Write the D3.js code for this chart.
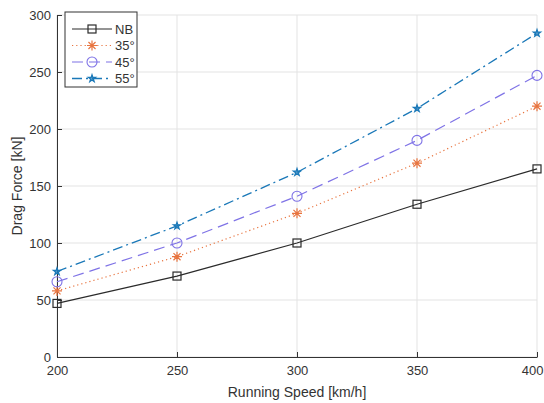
<!DOCTYPE html>
<html>
<head>
<meta charset="utf-8">
<script src="https://cdn.jsdelivr.net/npm/d3@7"></script>
<style>
  body { margin: 0; background: #fff; }
  text { font-family: "Liberation Sans", Arial, sans-serif; }
</style>
</head>
<body>
<div id="chart"></div>
<script>
const speeds = [200, 250, 300, 350, 400]
const nbValues = [47, 71, 100, 134, 165]
const a35Values = [58, 88, 126, 170, 220]
const a45Values = [66, 100, 141, 190, 247]
const a55Values = [75, 115, 162, 218, 284]
const seriesNames = ["NB", "35°", "45°", "55°"]
const xTicks = [200, 250, 300, 350, 400]
const yTicks = [0, 50, 100, 150, 200, 250, 300]

const width = 544, height = 403
const margin = { top: 15, right: 7, bottom: 46, left: 57 }

const styles = [
    { color: "#2b2b2b", dash: null, marker: "square", width: 1.2 },
    { color: "#e8743f", dash: "1.2,3", marker: "asterisk", width: 1.2 },
    { color: "#7f73e6", dash: "11,6", marker: "circle", width: 1.2 },
    { color: "#1a78b8", dash: "10,4,2,4", marker: "star", width: 1.3 }
]

const allValues = [nbValues, a35Values, a45Values, a55Values]

const svg = d3.select("#chart").append("svg")
    .attr("width", width)
    .attr("height", height)

const xScale = d3.scaleLinear([200, 400], [margin.left, width - margin.right])
const yScale = d3.scaleLinear([0, 300], [height - margin.bottom, margin.top])

// grid
svg.append("g").selectAll("line.gx").data(xTicks).join("line")
    .attr("x1", d => xScale(d)).attr("x2", d => xScale(d))
    .attr("y1", yScale(0)).attr("y2", yScale(300))
    .attr("stroke", "#e3e3e3").attr("stroke-width", 1)
svg.append("g").selectAll("line.gy").data(yTicks).join("line")
    .attr("x1", xScale(200)).attr("x2", xScale(400))
    .attr("y1", d => yScale(d)).attr("y2", d => yScale(d))
    .attr("stroke", "#e3e3e3").attr("stroke-width", 1)

// axes
const xAxis = d3.axisBottom(xScale).tickValues(xTicks).tickSizeInner(-5).tickSizeOuter(0).tickPadding(9)
const yAxis = d3.axisLeft(yScale).tickValues(yTicks).tickSizeInner(-5).tickSizeOuter(0).tickPadding(9)

const gx = svg.append("g").attr("transform", `translate(0,${yScale(0)})`).call(xAxis)
const gy = svg.append("g").attr("transform", `translate(${xScale(200)},0)`).call(yAxis)
for (const g of [gx, gy]) {
    g.select(".domain").attr("stroke", "#333")
    g.selectAll(".tick line").attr("stroke", "#333")
    g.selectAll(".tick text").attr("fill", "#333").style("font-size", "13px")
        .style("font-family", "'Liberation Sans', Arial, sans-serif")
}
gy.selectAll(".tick text").attr("dx", "3")
gx.selectAll(".tick text").filter(d => d === 400).attr("text-anchor", "end").attr("dx", "6")

svg.append("text")
    .attr("x", (xScale(200) + xScale(400)) / 2).attr("y", 397)
    .attr("text-anchor", "middle").attr("fill", "#333").style("font-size", "14px")
    .text("Running Speed [km/h]")
svg.append("text")
    .attr("transform", `translate(22,${(yScale(0) + yScale(300)) / 2}) rotate(-90)`)
    .attr("text-anchor", "middle").attr("fill", "#333").style("font-size", "14px")
    .text("Drag Force [kN]")

function drawMarker(g, type, color, x, y) {
    if (type === "square") {
        g.append("rect").attr("x", x - 4).attr("y", y - 4).attr("width", 8).attr("height", 8)
            .attr("fill", "none").attr("stroke", color).attr("stroke-width", 1.2)
    } else if (type === "circle") {
        g.append("circle").attr("cx", x).attr("cy", y).attr("r", 5)
            .attr("fill", "none").attr("stroke", color).attr("stroke-width", 1.1)
    } else if (type === "asterisk") {
        const r = 5, k = r * 0.7071
        const p = `M${x - r},${y}L${x + r},${y}M${x},${y - r}L${x},${y + r}` +
            `M${x - k},${y - k}L${x + k},${y + k}M${x - k},${y + k}L${x + k},${y - k}`
        g.append("path").attr("d", p).attr("stroke", color).attr("stroke-width", 1.2).attr("fill", "none")
    } else if (type === "star") {
        g.append("path").attr("d", d3.symbol(d3.symbolStar, 16)())
            .attr("transform", `translate(${x},${y})`)
            .attr("fill", color).attr("fill-opacity", 0.7)
            .attr("stroke", color).attr("stroke-width", 1.2)
    }
}

const line = d3.line().x((d, i) => xScale(speeds[i])).y(d => yScale(d))

allValues.forEach((vals, k) => {
    const st = styles[k]
    const g = svg.append("g")
    g.append("path").datum(vals).attr("d", line)
        .attr("fill", "none").attr("stroke", st.color).attr("stroke-width", st.width)
        .attr("stroke-dasharray", st.dash)
    vals.forEach((v, i) => drawMarker(g, st.marker, st.color, xScale(speeds[i]), yScale(v)))
})

// legend
const leg = svg.append("g")
leg.append("rect").attr("x", 65).attr("y", 12).attr("width", 72).attr("height", 75)
    .attr("fill", "#fff").attr("stroke", "#333").attr("stroke-width", 1)
seriesNames.forEach((name, k) => {
    const st = styles[k]
    const y = 29 + k * 16.5
    leg.append("line").attr("x1", 72).attr("x2", 112).attr("y1", y).attr("y2", y)
        .attr("stroke", st.color).attr("stroke-width", st.width).attr("stroke-dasharray", st.dash)
    drawMarker(leg, st.marker, st.color, 92, y)
    leg.append("text").attr("x", 115).attr("y", y + 4.5).attr("fill", "#333")
        .style("font-size", "13px").text(name)
})
</script>
</body>
</html>
